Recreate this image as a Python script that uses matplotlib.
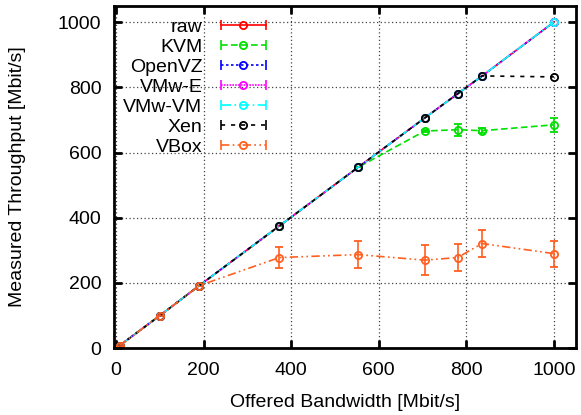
import matplotlib
matplotlib.use("Agg")
import matplotlib.pyplot as plt
from matplotlib.lines import Line2D
from matplotlib.legend_handler import HandlerLine2D, HandlerTuple

plt.rcParams['font.family'] = ['Liberation Sans', 'DejaVu Sans']

# offered bandwidth [Mbit/s]
offered = [8, 100, 190, 373, 553, 705, 780, 836, 1000]

raw = [8, 100, 192, 375, 555, 706, 780, 835, 1000]
kvm = [8, 100, 192, 375, 555, 666, 670, 667, 685]
kvm_err = [0, 0, 0, 0, 0, 4, 19, 8, 21]
openvz = [8, 100, 192, 375, 555, 706, 780, 835, 1000]
vmw_e = [8, 100, 192, 375, 555, 706, 780, 835, 1000]
vmw_vm = [8, 100, 192, 375, 555, 706, 780, 835, 1000]
xen = [8, 100, 192, 375, 555, 706, 780, 835, 832]
vbox = [8, 100, 192, 278, 287, 270, 278, 321, 290]
vbox_err = [0, 0, 0, 32, 41, 47, 40, 42, 40]

labels = ['raw', 'KVM', 'OpenVZ', 'VMw-E', 'VMw-VM', 'Xen', 'VBox']
series = [raw, kvm, openvz, vmw_e, vmw_vm, xen, vbox]
errors = [None, kvm_err, None, None, None, None, vbox_err]
colors = ['#ff0000', '#00e000', '#0000ff', '#ff00ff', '#00ffff', '#000000', '#ff6020']
styles = ['-', (0, (4, 2)), (0, (1.5, 1.5)), (0, (1, 0.7)), (0, (6, 2, 1, 2)),
          (0, (2.5, 3.5)), (0, (5, 2, 1, 2, 1, 2))]

fig = plt.figure(figsize=(5.81, 4.15), dpi=100)
ax = fig.add_axes([0.196, 0.161, 0.795, 0.825])

handles = []
hmap = {}
for y, e, c, ls, lab in zip(series, errors, colors, styles, labels):
    ax.errorbar(offered, y, yerr=e, color=c, linestyle=ls, linewidth=1.2,
                marker='o', markersize=5.2, markerfacecolor='none',
                markeredgewidth=1.3, capsize=3, elinewidth=1.2)
    caps = Line2D([], [], color=c, linestyle=ls, linewidth=1.2, marker='|',
                  markersize=7, markeredgewidth=1.2)
    dot = Line2D([], [], color='none', marker='o', markersize=5.2,
                 markerfacecolor='none', markeredgecolor=c, markeredgewidth=1.3)
    hmap[caps] = HandlerLine2D(numpoints=2)
    hmap[dot] = HandlerLine2D(numpoints=1)
    handles.append((caps, dot))
hmap[tuple] = HandlerTuple(ndivide=1)

ax.set_xlim(-5, 1050)
ax.set_ylim(0, 1050)
ax.set_xticks([0, 200, 400, 600, 800, 1000])
ax.set_yticks([0, 200, 400, 600, 800, 1000])
ax.tick_params(direction='in', length=6, width=2, top=True, right=True,
               labelsize=14)
ax.tick_params(axis='x', pad=10)
ax.tick_params(axis='y', pad=9)
for s in ax.spines.values():
    s.set_linewidth(2)
ax.grid(True, linestyle=(0, (1, 2)), color='#444444', linewidth=0.9)
ax.set_xlabel('Offered Bandwidth [Mbit/s]', fontsize=14, labelpad=11)
ax.set_ylabel('Measured Throughput [Mbit/s]', fontsize=14, labelpad=23)

leg = ax.legend(handles, labels, handler_map=hmap, loc='upper left',
                bbox_to_anchor=(-0.007, 1.0), markerfirst=False, frameon=False,
                fontsize=14, handlelength=2.9, handletextpad=0.65,
                labelspacing=0.12, borderaxespad=0.25)
for t in leg.get_texts():
    t.set_ha('right')

fig.savefig('out.png', dpi=100)
